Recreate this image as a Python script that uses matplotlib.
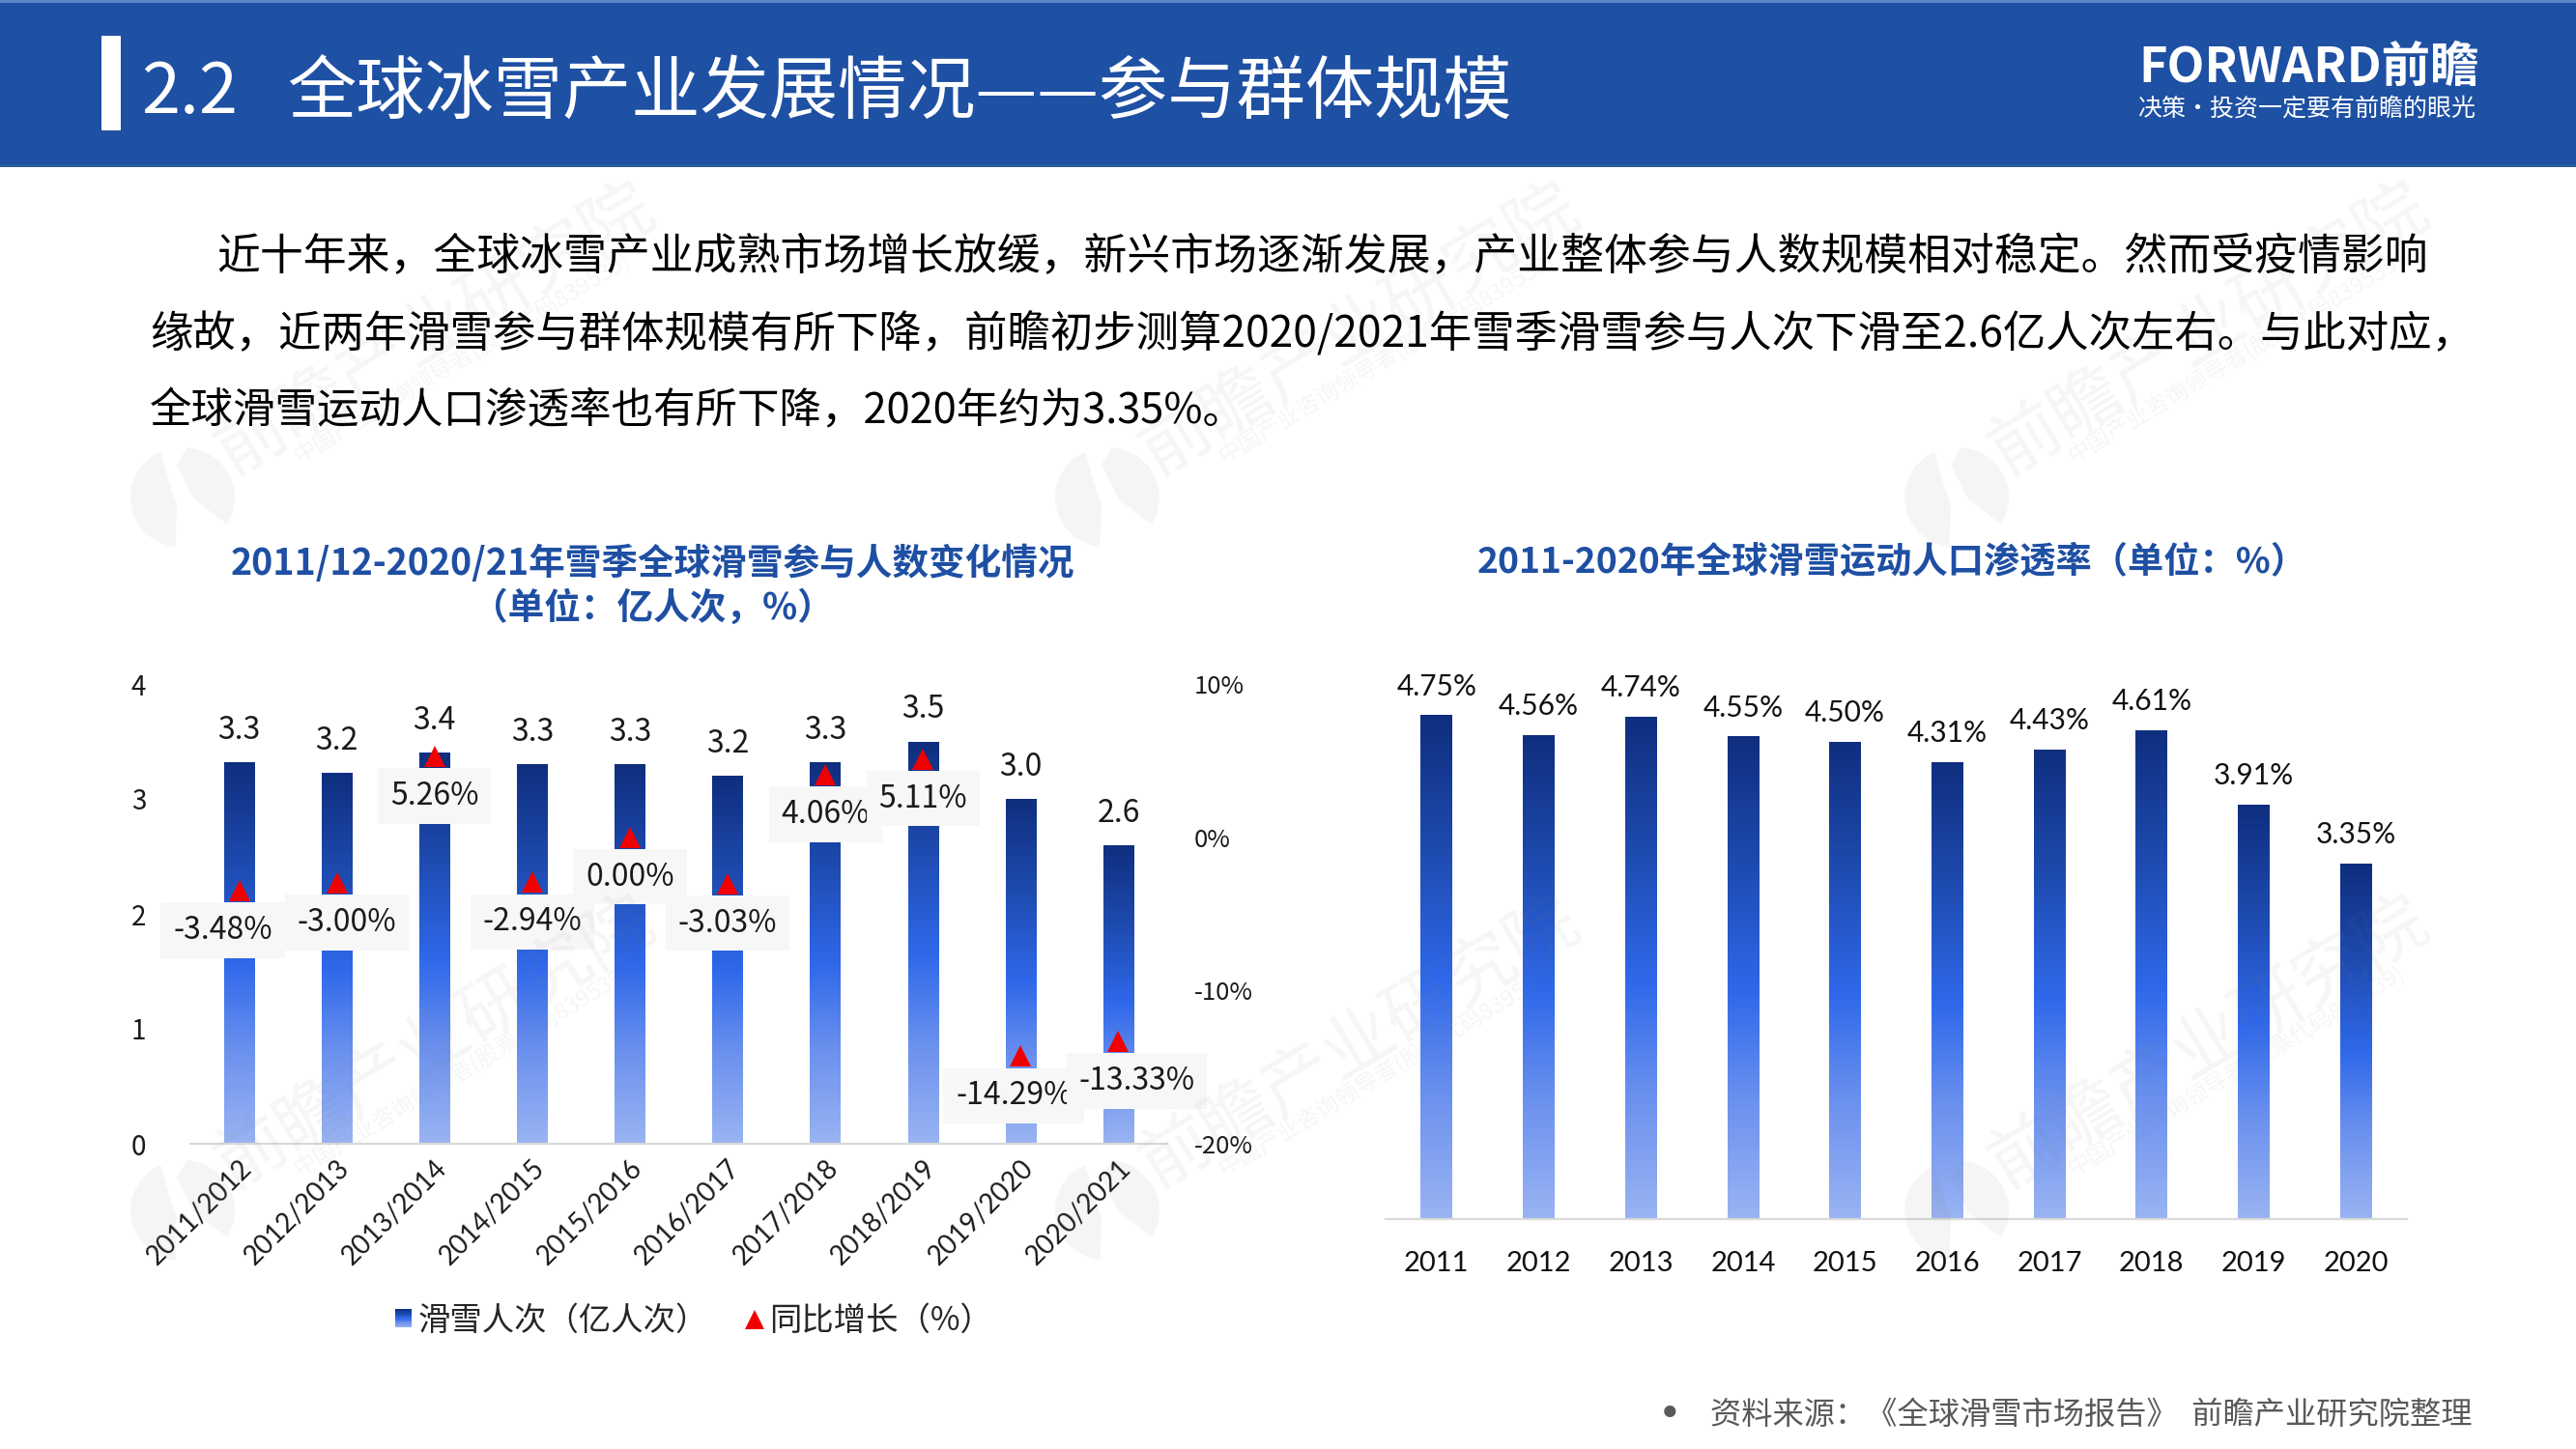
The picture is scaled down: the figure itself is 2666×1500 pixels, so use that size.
import numpy as np
import matplotlib
matplotlib.use("Agg")
import matplotlib.pyplot as plt
from matplotlib.colors import LinearSegmentedColormap
from matplotlib.lines import Line2D
from matplotlib.patches import Rectangle, Polygon, Patch
from matplotlib.legend_handler import HandlerBase
from matplotlib.transforms import ScaledTranslation

plt.rcParams['font.family'] = ['Noto Sans CJK SC', 'DejaVu Sans']

# ---------- data ----------
seasons = ['2011/2012', '2012/2013', '2013/2014', '2014/2015', '2015/2016',
           '2016/2017', '2017/2018', '2018/2019', '2019/2020', '2020/2021']
skier_visits = [3.32, 3.23, 3.40, 3.30, 3.30, 3.20, 3.32, 3.50, 3.00, 2.60]
visit_growth = [-3.48, -3.00, 5.26, -2.94, 0.00, -3.03, 4.06, 5.11, -14.29, -13.33]
years = ['2011', '2012', '2013', '2014', '2015', '2016', '2017', '2018', '2019', '2020']
penetration = [4.75, 4.56, 4.74, 4.55, 4.50, 4.31, 4.43, 4.61, 3.91, 3.35]
left_ticks = [0, 1, 2, 3, 4]
right_ticks = [-20, -10, 0, 10]

title_no = '2.2'
title_txt = '全球冰雪产业发展情况——参与群体规模'
para = ['近十年来，全球冰雪产业成熟市场增长放缓，新兴市场逐渐发展，产业整体参与人数规模相对稳定。然而受疫情影响',
        '缘故，近两年滑雪参与群体规模有所下降，前瞻初步测算2020/2021年雪季滑雪参与人次下滑至2.6亿人次左右。与此对应，',
        '全球滑雪运动人口渗透率也有所下降，2020年约为3.35%。']
left_title = ['2011/12-2020/21年雪季全球滑雪参与人数变化情况', '（单位：亿人次，%）']
right_title = '2011-2020年全球滑雪运动人口渗透率（单位：%）'
source = '资料来源：《全球滑雪市场报告》  前瞻产业研究院整理'

# ---------- layout ----------
W, H = 2666, 1500
fig = plt.figure(figsize=(W / 100, H / 100), dpi=100, facecolor='white')
CN = ['Noto Sans CJK SC', 'DejaVu Sans']
LAT = ['Lato', 'DejaVu Sans']
BLUE = '#1E4FA3'
cmap = LinearSegmentedColormap.from_list(
    'barfade', [(0, '#0F2E7E'), (0.27, '#1E4BB0'), (0.53, '#2F68EA'), (0.75, '#6A90EE'), (1, '#9AB4F3')])
GRAD = np.linspace(0, 1, 256).reshape(-1, 1)


def px_axes(x0, x1, ytop, ybot, **kw):
    return fig.add_axes([x0 / W, 1 - ybot / H, (x1 - x0) / W, (ybot - ytop) / H], **kw)


bg = px_axes(0, W, 0, H, zorder=-1)
bg.set_xlim(0, W); bg.set_ylim(H, 0); bg.axis('off')
bg.add_patch(Rectangle((0, 0), W, 173, fc='#1E50A3', ec='none'))
bg.add_patch(Rectangle((0, 0), W, 3, fc='#5B86C8', ec='none'))
bg.add_patch(Rectangle((0, 170), W, 3, fc='#2B5C9E', ec='none'))
bg.add_patch(Rectangle((105, 37), 20, 98, fc='white', ec='none'))
bg.text(146, 97, title_no, color='white', fontsize=52, va='center', ha='left')
bg.text(297, 97, title_txt, color='white', fontsize=51.3, va='center', ha='left')
bg.text(2213, 70, 'FORWARD前瞻', color='white', fontsize=36.3, fontweight='bold', va='center', ha='left')
bg.text(2212, 113, '决策·投资一定要有前瞻的眼光', color='white', fontsize=18, va='center', ha='left')

for x, y, s, fs in zip([224, 155, 155], [266, 346, 426], para, [32.3, 31.92, 31.3]):
    bg.text(x, y, s, color='black', fontsize=fs, va='center', ha='left')

bg.text(675, 583, left_title[0], color=BLUE, fontsize=27.1, fontweight='bold', ha='center', va='center')
bg.text(675, 629, left_title[1], color=BLUE, fontsize=27.1, fontweight='bold', ha='center', va='center')
bg.text(1958, 583, right_title, color=BLUE, fontsize=26.8, fontweight='bold', ha='center', va='center')
bg.text(1728, 1465, '•', color='#595959', fontsize=30, ha='center', va='center', family='DejaVu Sans')
bg.text(2558, 1465, source, color='#595959', fontsize=23.2, ha='right', va='center')

# ---------- left chart ----------
ax = px_axes(197, 1208, 708, 1184)
x = np.arange(len(seasons))
bars = ax.bar(x, skier_visits, width=0.31, color='none', linewidth=0, zorder=2)
for xi, v, b in zip(x, skier_visits, bars):
    im = ax.imshow(GRAD, extent=(xi - .155, xi + .155, 0, v), aspect='auto', cmap=cmap, zorder=2,
                   interpolation='bilinear')
    im.set_clip_path(b)
    ax.annotate(f'{v:.1f}', (xi, v), xytext=(0, 23.8), textcoords='offset points', ha='center', va='center',
                fontsize=23, color='#1a1a1a')
ax.set_xlim(-.5, 9.5)
ax.set_ylim(0, 4)
ax.set_yticks(left_ticks)
ax.set_xticks(x, seasons)
for s in ['top', 'left', 'right']:
    ax.spines[s].set_visible(False)
ax.spines['bottom'].set_color('#D9D9D9')
ax.spines['bottom'].set_linewidth(1.6)
ax.tick_params(axis='y', length=0, pad=33, labelsize=20, labelcolor='#1a1a1a')
ax.tick_params(axis='x', length=0, pad=15, labelcolor='#1a1a1a')
shift = ScaledTranslation(9 / 100, 0, fig.dpi_scale_trans)
for t in ax.get_xticklabels():
    t.set(fontsize=20, family=LAT, rotation=45, ha='right', rotation_mode='anchor', va='center')
    t.set_transform(t.get_transform() + shift)

ax2 = ax.twinx()
ax2.set_ylim(-20, 10)
ax2.set_yticks(right_ticks, [f'{v}%' for v in right_ticks])
ax2.set_xlim(-.5, 9.5)
for s in ax2.spines.values():
    s.set_visible(False)
ax2.tick_params(axis='y', length=0, pad=20, labelsize=18.5, labelcolor='#1a1a1a')
for t in ax2.get_yticklabels():
    t.set_ha('left')
nudge = [-17, 10, 0, 0, 0, 0, 0, 0, -7, 19]
for xi, g, n in zip(x, visit_growth, nudge):
    ax2.annotate(f'{g:.2f}%', (xi, g), xytext=(n * .72, -29.5), textcoords='offset points', ha='center', va='center',
                 fontsize=23, color='#1a1a1a', zorder=4,
                 bbox=dict(boxstyle='square,pad=0.4', fc='#F7F7F7', ec='none'))
ax2.plot(x, visit_growth, linestyle='none', marker='^', color='#F00000', markersize=16, markeredgewidth=0, zorder=6)


class GradHandler(HandlerBase):
    def create_artists(self, legend, orig, xd, yd, width, height, fontsize, trans):
        n = 8
        return [Rectangle((-xd, -yd + height * (n - 1 - i) / n), width, height / n + .2,
                          fc=cmap((i + .5) / n), ec='none', transform=trans) for i in range(n)]


leg_handles = [Patch(label='滑雪人次（亿人次）'),
               Line2D([], [], linestyle='none', marker='^', color='#F00000', markersize=14, markeredgewidth=0,
                      label='同比增长（%）')]
ax2.legend(handles=leg_handles, handler_map={Patch: GradHandler()}, ncol=2, frameon=False, fontsize=24,
           loc='center', bbox_to_anchor=(718 / W, 1 - 1367 / H), bbox_transform=fig.transFigure,
           handlelength=.5, handleheight=.5, handletextpad=.2, columnspacing=1.2, labelcolor='#262626')

# ---------- right chart ----------
ax3 = px_axes(1434, 2491, 713, 1262)
x3 = np.arange(len(years))
bars3 = ax3.bar(x3, penetration, width=0.31, color='none', linewidth=0, zorder=2)
for xi, v, b in zip(x3, penetration, bars3):
    im = ax3.imshow(GRAD, extent=(xi - .155, xi + .155, 0, v), aspect='auto', cmap=cmap, zorder=2,
                    interpolation='bilinear')
    im.set_clip_path(b)
    ax3.annotate(f'{v:.2f}%', (xi, v), xytext=(0, 21.5), textcoords='offset points', ha='center', va='center',
                 fontsize=21.5, family=LAT, color='#111111')
ax3.set_xlim(-.5, 9.5)
ax3.set_ylim(0, 5)
ax3.set_yticks([])
ax3.set_xticks(x3, years)
for s in ['top', 'left', 'right']:
    ax3.spines[s].set_visible(False)
ax3.spines['bottom'].set_color('#D9D9D9')
ax3.spines['bottom'].set_linewidth(1.6)
ax3.tick_params(axis='x', length=0, pad=24, labelcolor='#111111')
for t in ax3.get_xticklabels():
    t.set(fontsize=21, family=LAT)

# ---------- watermark ----------
ov = px_axes(0, W, 0, H, zorder=10)
ov.set_xlim(0, W); ov.set_ylim(H, 0); ov.axis('off'); ov.patch.set_alpha(0)
WM_A = 0.07
WM = dict(color='#7F7F7F', alpha=WM_A, ha='center', va='center', rotation=31, rotation_mode='anchor')


def logo_piece(cx, cy, a0, a1, inner):
    th = np.radians(np.linspace(a0, a1, 40))
    pts = list(zip(cx + 54 * np.cos(th), cy - 52 * np.sin(th)))
    pts += [(cx + dx, cy + dy) for dx, dy in inner]
    ov.add_patch(Polygon(pts, fc='#7F7F7F', alpha=WM_A, ec='none'))


for lx in (189, 1146, 2025):
    for ly in (515, 1253):
        logo_piece(lx, ly, 115, 262, [(-6, 8), (-14, -16)])
        logo_piece(lx, ly, 85, -32, [(12, 2), (-6, -34)])
        if ly - 173 > 200:
            ov.text(lx + 261, ly - 173, '前瞻产业研究院', fontsize=53, **WM)
            ov.text(lx + 290, ly - 145, '中国产业咨询领导者(股票代码839539)', fontsize=17, **WM)

fig.savefig('out.png', dpi=100, facecolor='white')
